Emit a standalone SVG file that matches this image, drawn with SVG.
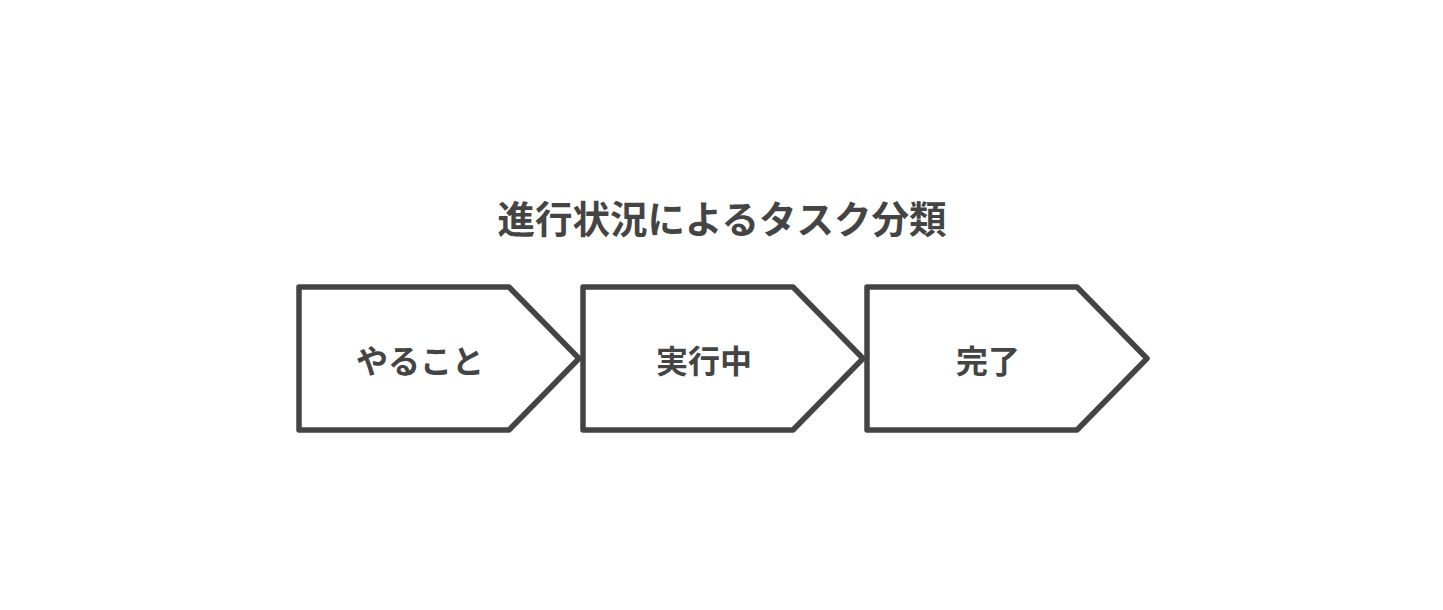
<svg xmlns="http://www.w3.org/2000/svg" width="1443" height="610" viewBox="0 0 1443 610">
<style>
.shape{fill:#ffffff;stroke:#444444;stroke-width:5.5;stroke-linejoin:round}
.t{font-family:"Noto Sans CJK JP","Noto Sans",sans-serif;font-weight:bold;fill:#444444;text-anchor:middle;dominant-baseline:central}
.title{font-size:37.5px}
.lbl{font-size:32px}
</style>
<rect width="1443" height="610" fill="#ffffff"/>
<g id="title"><text class="t title" x="722" y="216">進行状況によるタスク分類</text></g>
<g id="node-todo">
<path class="shape" d="M299,287 H509 L579,358.5 L509,430 H299 Z"/>
<text class="t lbl" x="420" y="359">やること</text>
</g>
<g id="node-doing">
<path class="shape" d="M583,287 H793 L863,358.5 L793,430 H583 Z"/>
<text class="t lbl" x="704" y="359">実行中</text>
</g>
<g id="node-done">
<path class="shape" d="M867,287 H1077 L1147,358.5 L1077,430 H867 Z"/>
<text class="t lbl" x="988" y="359">完了</text>
</g>
<g id="connectors"></g>
</svg>
